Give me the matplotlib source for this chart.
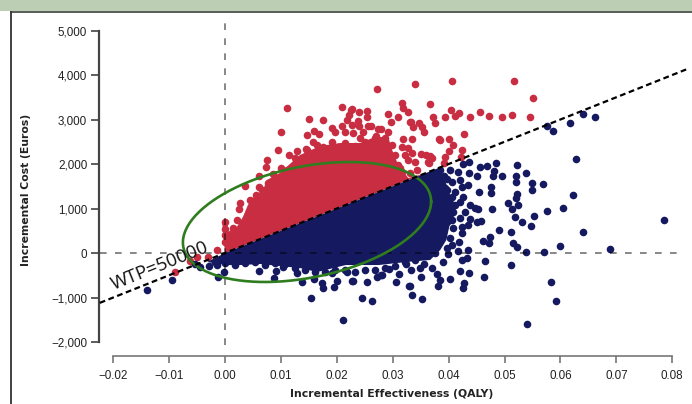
import numpy as np
import matplotlib
matplotlib.use('Agg')
from matplotlib import pyplot as plt
from matplotlib.lines import Line2D
from matplotlib.patches import Rectangle

# outliers above the WTP line
red_x = [.0111,.0100,.0150,.0147,.0095,.0115,.0129,.0125,.0145,.0075,.0073,.0100,.0086,.0061,.0036,.0061,.0111,.0122,
         .0209,.0175,.0227,.0222,.0240,.0254,.0254,.0218,.0238,.0227,.0209,.0240,.0192,.0197,.0215,.0229,.0256,.0247,
         .0274,.0292,.0159,.0168,.0242,.0270,.0158,.0192,.0215,.0175,.0147,.0202,.0224,.0165,.0292,.0297,.0310,.0317,
         .0319,.0328,.0367,.0333,.0337,.0347,.0353,.0356,.0376,.0319,.0335,.0317,.0328,.0335,.0322,.0351,.0367,.0363,
         .0340,.0328,.0383,.0313,.0344,.0331,.0272,.0340,.0406,.0517,.0551,.0372,.0394,.0405,.0412,.0419,.0439,.0456,
         .0473,.0496,.0514,.0546,.0428,.0385,.0401,.0408,.0424,.0422,.0401,.0394,.0392,.0331,.0371,.0360,.0365,.0226,
         .0279,.0261,-.0090,-.0063,-.0050,-.0030,-.0014,.0027,.0025]
red_y = [3258,2719,3011,2651,2314,2202,2292,2135,2337,2090,1932,1910,1775,1730,1505,1483,1865,1910,
         3281,2989,3236,3101,3168,3191,3056,2989,2966,2876,2854,2854,2809,2719,2719,2696,2854,2719,
         2786,2719,2741,2674,2584,2629,2494,2494,2472,2382,2314,2382,2337,2427,3123,2944,3056,3371,
         3258,3168,3348,2944,2831,2921,2831,2719,2921,2562,2562,2382,2359,2247,2202,2225,2180,2045,
         2045,2090,2562,1910,1865,1798,3685,3797,3865,3865,3483,3056,3056,3213,3078,3146,3056,3168,
         3078,3056,3101,3056,2674,2539,2562,2427,2314,2157,2292,2157,2022,2944,2135,2202,2022,3213,
         2786,2854,-427,-180,-90,-90,67,1124,989]
# points sitting on the edge of the solid red part
red_edge_x = [.0045,.0055,.0066,.0077,.0089,.0107,.0125,.0143,.0161,.0179,.0197,.0215,.0233,.0251,.0269,.0286,.0299,
              .0304,.0310,.0317,.0021,.0014,0,0,0,0,.0004]
red_edge_y = [1191,1303,1416,1573,1685,1820,1977,2090,2247,2314,2359,2359,2404,2494,2584,2584,2427,
              2202,1977,1820,741,562,700,550,400,250,300]

# outliers below the WTP line
blue_x = [.0485,.0523,.0539,.0496,.0521,.0521,.0550,.0550,.0469,.0456,.0482,.0480,.0437,.0426,.0437,.0451,.0403,.0417,
          .0397,.0406,.0421,.0435,.0424,.0455,.0476,.0476,.0412,.0394,.0426,.0421,.0448,.0453,.0478,.0523,.0521,.0507,
          .0524,.0514,.0519,.0532,.0553,.0548,.0490,.0512,.0458,.0451,.0439,.0435,.0408,.0406,.0408,.0388,.0424,.0424,
          .0403,.0419,.0406,.0381,.0474,.0462,.0473,.0516,.0523,.0786,.0605,.0576,.0641,.0600,.0689,.0539,.0571,.0465,
          .0512,.0437,.0421,.0464,.0584,.0592,.0541,.0403,.0428,.0426,.0385,.0381,.0331,.0335,.0353,.0306,.0351,.0379,
          .0417,.0435,.0433,.0424,.0399,.0376,.0254,.0229,.0245,.0263,.0279,.0294,.0311,.0324,.0356,.0091,.0088,.0138,
          .0159,.0174,.0175,.0195,.0200,.0227,.0154,.0211,.0329,.0129,.0192,.0272,.0281,.0218,-.0140,-.0095,-.0013,
          -.0002,.0061,-.0045,-.0029,-.0054,-.0014,.0104,.0576,.0587,.0618,.0641,.0662,.0627,.0623,.0569]
blue_y = [2022,1977,1798,1730,1730,1595,1573,1416,1955,1932,1843,1730,2045,2000,1798,1730,1865,1820,
          1663,1595,1640,1528,1483,1371,1483,1348,1371,1461,1258,1146,1011,989,989,1326,1236,1124,
          1079,989,809,697,831,607,517,472,719,697,764,629,921,742,562,674,584,449,
          337,247,180,360,360,270,225,225,135,742,1011,944,472,157,90,22,22,-180,
          -270,-449,-404,-539,-652,-1079,-1595,-584,-674,-786,-607,-742,-742,-944,-1034,-652,-539,-472,
          45,67,-112,-157,-22,0,-652,-629,-1011,-1079,-494,-360,-472,-247,-247,-404,-562,-652,
          -584,-674,-786,-764,-629,-629,-1011,-1505,-742,-449,-449,-539,-494,-427,-831,-607,-539,
          -427,-404,-315,-292,-247,-270,-315,2854,2741,2921,3123,3056,2112,1303,1550]
# points sitting on the edge of the solid blue part
blue_edge_x = [-.0018,0,.0018,.0036,.0054,.0072,.0090,.0107,.0125,.0143,.0161,.0179,.0197,.0215,.0233,.0251,.0269,.0286,
               .0304,.0322,.0340,.0358,.0371,.0381,.0388,.0397,.0404,.0412,.0406,.0397,.0392,.0385,
               .0438,.0429,.0421,.0397,.0390,.0370,.0349,.0333]
blue_edge_y = [-202,-225,-270,-225,-202,-270,-225,-247,-337,-382,-427,-427,-382,-382,-427,-382,-382,-337,
               -292,-202,-157,-45,112,292,517,697,899,1079,1258,1416,1730,1865,
               1079,921,786,112,-202,-337,-337,-382]

# outline of the solid part of each cloud
red_mass_x = [0,-.0005,0,.0005,.0005,.0021,.0032,.0041,.0050,.0068,.0075,.0098,.0134,.0170,.0206,.0242,.0268,.0292,.0299,.0310,.0328,.0358]
red_mass_y = [0,697,786,697,472,584,809,1079,1236,1416,1640,1798,2202,2404,2472,2472,2607,2607,2314,1977,1685,1790]
blue_mass_x = [0,.0379,.0390,.0403,.0414,.0403,.0396,.0385,.0367,.0324,.0275,.0216,.0165,.0134,.0063,.0027,.0004,-.0032]
blue_mass_y = [0,1895,1753,1303,1034,697,292,67,-157,-202,-270,-270,-427,-337,-247,-270,-270,-202]

x_ticks = [-.02,-.01,0,.01,.02,.03,.04,.05,.06,.07,.08]
x_labels = ['\u22120.02','\u22120.01','0.00','0.01','0.02','0.03','0.04','0.05','0.06','0.07','0.08']
y_ticks = [-2000,-1000,0,1000,2000,3000,4000,5000]
y_labels = ['\u22122,000','\u22121,000','0','1,000','2,000','3,000','4,000','5,000']

WTP = 50000
wtp_x = [-.0224,.0825]

W, H = 692, 404
RED = '#c92d42'
BLUE = '#15195f'
DOT = 30
fig = plt.figure(figsize=(W/100, H/100), dpi=100)
plt.rcParams['font.family'] = ['Liberation Sans', 'DejaVu Sans']

# frame of the slide behind the chart
fig.add_artist(Rectangle((0, 1-11/H), 1, 11/H, transform=fig.transFigure, color='#bccfb4', lw=0))
fig.add_artist(Line2D([11/W, 1], [1-11.5/H, 1-11.5/H], color='#4a5048', lw=1.3))
fig.add_artist(Line2D([11/W, 11/W], [0, 1-11.5/H], color='#333333', lw=1.3))

ax = fig.add_axes([99/W, 1-356/H, (690-99)/W, (356-22)/H])
ax.patch.set_alpha(0)
ax.set_xlim(-.02254, .08318)
ax.set_ylim(-2314, 5191)

ax.fill(red_mass_x, red_mass_y, color=RED, lw=0, zorder=2)
ax.scatter(red_x, red_y, s=DOT, color=RED, lw=0, zorder=2, clip_on=False)
ax.scatter(red_edge_x, red_edge_y, s=DOT, color=RED, lw=0, zorder=2)
ax.fill(blue_mass_x, blue_mass_y, color=BLUE, lw=0, zorder=3)
ax.scatter(blue_x, blue_y, s=DOT, color=BLUE, lw=0, zorder=3, clip_on=False)
ax.scatter(blue_edge_x, blue_edge_y, s=DOT, color=BLUE, lw=0, zorder=3)

# zero lines
ax.plot([-.0224, .081], [0, 0], color='black', alpha=.55, lw=1.2, dashes=(4, 5), zorder=4)
ax.plot([0, 0], [-2067, 5191], color='black', alpha=.55, lw=1.2, dashes=(4, 5), zorder=4)

# ellipse
t = np.linspace(0, 2*np.pi, 200)
rho = .34
ax.plot(.01467 + .0222*np.cos(t),
        697 + 1348*(rho*np.cos(t) + np.sqrt(1-rho**2)*np.sin(t)),
        color='#2f7d1e', lw=1.9, zorder=5)

ax.plot(wtp_x, [v*WTP for v in wtp_x], color='black', lw=1.6, dashes=(2.6, 1.6), zorder=6, clip_on=False)

ax.text(-.0116, -292, 'WTP=50000', rotation=22, rotation_mode='anchor', ha='center', va='center',
        fontsize=13.5, color='#111111', family=['Open Sans', 'DejaVu Sans'], zorder=7)

for s in ['top', 'right']:
    ax.spines[s].set_visible(False)
ax.spines['left'].set_bounds(-2000, 5000)
ax.spines['left'].set_color('#444444')
ax.spines['left'].set_linewidth(1.6)
ax.spines['bottom'].set_bounds(-.02, .08)
ax.spines['bottom'].set_color('#777777')
ax.spines['bottom'].set_linewidth(1.2)

ax.set_xticks(x_ticks, x_labels)
ax.set_yticks(y_ticks, y_labels)
ax.tick_params(axis='y', length=6, width=1.2, color='#444444', labelsize=8.4, labelcolor='#222222', pad=2.5)
ax.tick_params(axis='x', length=5, width=1.2, color='#777777', labelsize=8.4, labelcolor='#222222', pad=5)

fig.text(392/W, 1-394/H, 'Incremental Effectiveness (QALY)', ha='center', va='center', fontsize=7.8,
         fontweight='bold', family=['DejaVu Sans'], color='#222222')
fig.text(26/W, 1-190/H, 'Incremental Cost (Euros)', ha='center', va='center', rotation=90, fontsize=7.8,
         fontweight='bold', family=['DejaVu Sans'], color='#222222')

plt.savefig('out.png', dpi=100)
